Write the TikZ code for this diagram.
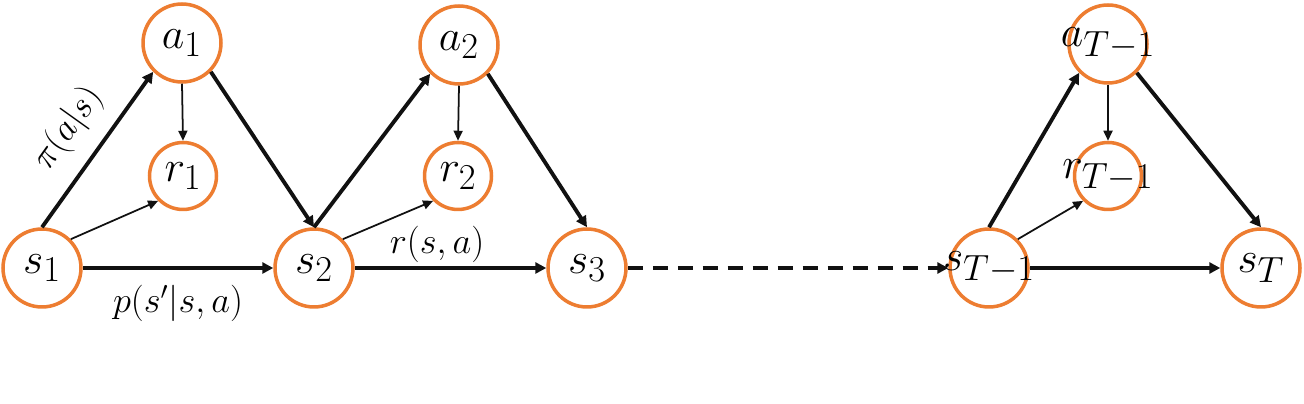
\documentclass[tikz,border=0pt]{standalone}
\usepackage{tikz}
\usetikzlibrary{arrows.meta, positioning}
\definecolor{ringorange}{HTML}{ED7D31}
\definecolor{inkblack}{HTML}{111111}

\tikzset{
  state/.style={circle, draw=ringorange, line width=2pt, minimum size=1.56cm, inner sep=0pt, font=\fontsize{24.88}{30}\selectfont},
  reward/.style={state, minimum size=1.34cm},
  bigarrow/.style={-{Triangle[length=0.22cm, width=0.22cm]}, line width=2.2pt, draw=inkblack},
  smallarrow/.style={-{Triangle[length=0.2cm, width=0.18cm]}, line width=1pt, draw=inkblack},
  lbl/.style={font=\fontsize{20.74}{25}\selectfont, inner sep=2pt}
}

\begin{document}
\begin{tikzpicture}[x=0.02cm, y=-0.02cm]
  \useasboundingbox (0,0) rectangle (1304,404);

  % first step
  \node[state] (s1) at (42,268) {$s_1$};
  \node[state] (a1) at (182,43) {$a_1$};
  \node[reward] (r1) at (183,176) {$r_1$};
  % second step
  \node[state] (s2) at (314,268) {$s_2$};
  \node[state] (a2) at (459,45) {$a_2$};
  \node[reward] (r2) at (458,176) {$r_2$};
  \node[state] (s3) at (587,268) {$s_3$};
  % last step (text wider than the ring)
  \node[state] (sT1) at (989,268) {\makebox[0pt]{$s_{T-1}$}};
  \node[state] (aT1) at (1108,44) {\makebox[0pt]{$a_{T-1}$}};
  \node[reward] (rT1) at (1108,176) {\makebox[0pt]{$r_{T-1}$}};
  \node[state] (sT) at (1261,268) {$s_T$};

  % transitions
  \draw[bigarrow] (s1.north) -- node[lbl, sloped, above=0.24cm] {$\pi(a|s)$} (a1.south west);
  \draw[bigarrow] (a1.south east) -- (s2.north);
  \draw[bigarrow] (s1.east) -- node[lbl, below=0.24cm] {$p(s'|s,a)$} (s2.west);
  \draw[smallarrow] (a1.south) -- (r1.north);
  \draw[smallarrow] (s1.north east) -- (r1.south west);

  \draw[bigarrow] (s2.north) -- (a2.south west);
  \draw[bigarrow] (a2.south east) -- (s3.north);
  \draw[bigarrow] (s2.east) -- node[lbl, above, pos=0.43] {$r(s,a)$} (s3.west);
  \draw[smallarrow] (a2.south) -- (r2.north);
  \draw[smallarrow] (s2.north east) -- (r2.south west);

  \draw[bigarrow, dash pattern=on 0.3cm off 0.2cm] (s3.east) -- (sT1.west);

  \draw[bigarrow] (sT1.north) -- (aT1.south west);
  \draw[bigarrow] (aT1.south east) -- (sT.north);
  \draw[bigarrow] (sT1.east) -- (sT.west);
  \draw[smallarrow] (aT1.south) -- (rT1.north);
  \draw[smallarrow] (sT1.north east) -- (rT1.south west);
\end{tikzpicture}
\end{document}
